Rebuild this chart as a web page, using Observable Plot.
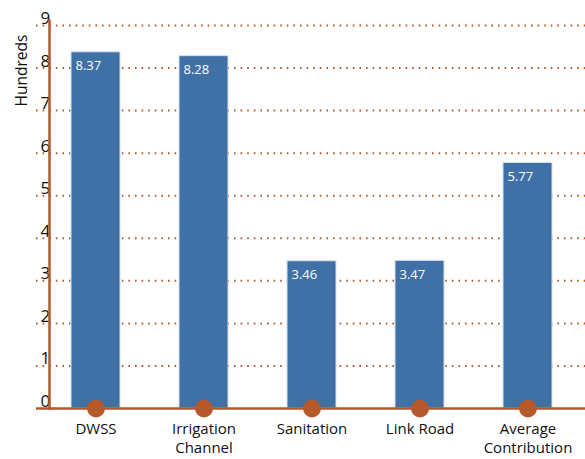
<!DOCTYPE html>
<html>
<head>
<meta charset="utf-8">
<script src="https://cdn.jsdelivr.net/npm/d3@7"></script>
<script src="https://cdn.jsdelivr.net/npm/@observablehq/plot@0.6"></script>
<style>
  html, body { margin: 0; padding: 0; background: #fff; }
  #chart svg { display: block; }
</style>
</head>
<body>
<div id="chart"></div>
<script>
const categories = ["DWSS", "Irrigation Channel", "Sanitation", "Link Road", "Average Contribution"];
const labels = ["DWSS", "Irrigation\nChannel", "Sanitation", "Link Road", "Average\nContribution"];
const values = [8.37, 8.28, 3.46, 3.47, 5.77];
const yTicks = [0, 1, 2, 3, 4, 5, 6, 7, 8, 9];

const data = categories.map((c, i) => ({name: c, label: labels[i], value: values[i]}));

const orange = "#b5592c";
const blue = "#3f70a6";
const font = "'Open Sans', sans-serif";

const chart = Plot.plot({
  width: 585,
  height: 459,
  marginLeft: 49,
  marginRight: 11,
  marginTop: 25,
  marginBottom: 51,
  style: {fontFamily: font, background: "#fff"},
  x: {domain: categories, paddingInner: 0.549, paddingOuter: 0.193, axis: null},
  y: {domain: [0, 9], axis: null},
  marks: [
    Plot.ruleY(yTicks.filter(d => d > 0), {stroke: orange, strokeWidth: 2, strokeDasharray: "1.6,5", insetLeft: -13, insetRight: -11}),
    Plot.barY(data, {x: "name", y: "value", fill: blue, stroke: "#d6e0ec", strokeWidth: 1}),
    Plot.text(data, {x: "name", y: "value", text: d => d.value.toFixed(2), fill: "white", fontSize: 13, textAnchor: "start", dx: -20.5, dy: 14}),
    Plot.text(yTicks, {y: d => d, text: d => String(d), frameAnchor: "left", dx: -9, dy: -7, fontSize: 17, fill: "#111"}),
    Plot.text(["Hundreds"], {frameAnchor: "top-left", textAnchor: "middle", lineAnchor: "middle", dx: -27, dy: 45, rotate: -90, fontSize: 15.5, fill: "#111"}),
    Plot.frame({anchor: "left", stroke: orange, strokeWidth: 2.5, insetTop: -5}),
    Plot.ruleY([0], {stroke: orange, strokeWidth: 2.5, insetLeft: -13, insetRight: -11}),
    Plot.dot(data, {x: "name", y: () => 0, r: 9, fill: orange}),
    Plot.text(data, {x: "name", text: "label", frameAnchor: "bottom", lineAnchor: "top", dy: 12, fontSize: 15, lineHeight: 1.27, fill: "#111"})
  ]
});
document.getElementById("chart").appendChild(chart);
</script>
</body>
</html>
